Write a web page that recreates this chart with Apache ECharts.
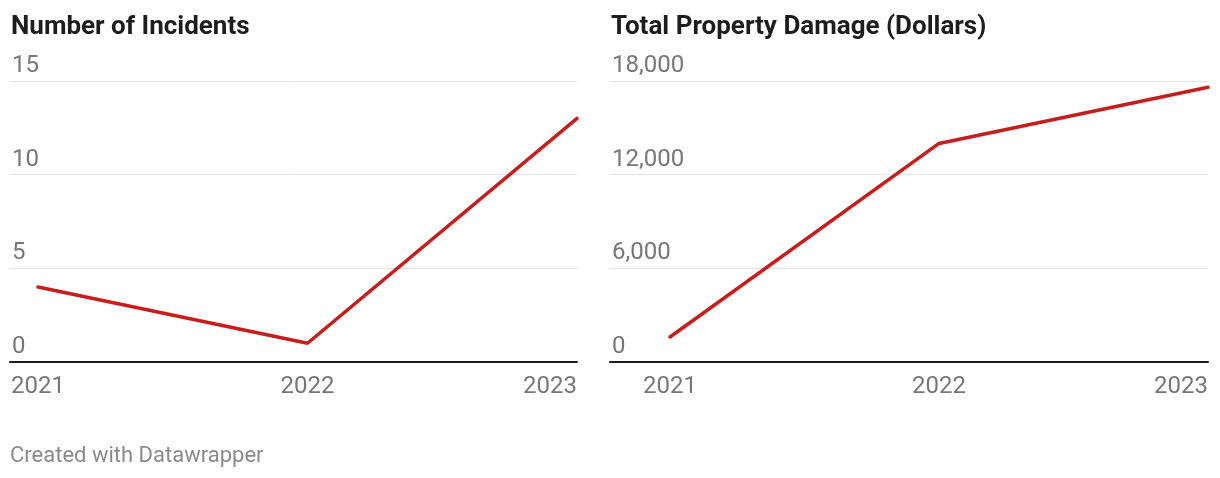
<!DOCTYPE html>
<html>
<head>
<meta charset="utf-8">
<script src="https://cdn.jsdelivr.net/npm/echarts@6/dist/echarts.min.js"></script>
<style>
  html, body { margin: 0; padding: 0; background: #fff; }
  #chart { width: 1220px; height: 478px; }
</style>
</head>
<body>
<div id="chart"></div>
<script>
const years = ['2021', '2022', '2023'];
const incidents = [4, 1, 13];
const damage = [1600, 14000, 17600];

const incidentTicks = [0, 5, 10, 15];
const damageTicks = [0, 6000, 12000, 18000];

const RED = '#c71e1d';
const FONT = 'Roboto';

// x is the year index; the line starts a little right of the grid edge (room for y labels)
function xAxisFor(idx, gridW, pad) {
  let n = years.length - 1;
  return {
    type: 'value', gridIndex: idx, min: -pad / (gridW - pad) * n, max: n,
    axisLine: { show: true, onZero: false, lineStyle: { color: '#1d1d1d', width: 2 } },
    axisTick: { show: false },
    splitLine: { show: false },
    axisLabel: {
      customValues: years.map((y, i) => i),
      alignMaxLabel: 'right',
      color: '#777', fontSize: 24, fontFamily: FONT, margin: 13,
      formatter: v => years[Math.round(v)]
    }
  };
}

function yAxisFor(idx, ticks) {
  return {
    type: 'value', gridIndex: idx, min: ticks[0], max: ticks[ticks.length - 1],
    interval: ticks[1] - ticks[0],
    axisLine: { show: false }, axisTick: { show: false },
    splitLine: { lineStyle: { color: '#e3e3e3', width: 1 } },
    axisLabel: {
      inside: true, align: 'left', verticalAlign: 'bottom', margin: 2,
      padding: [0, 0, 3, 0],
      color: '#777', fontSize: 24, fontFamily: FONT,
      formatter: v => v.toLocaleString('en-US')
    }
  };
}

function lineSeries(idx, vals) {
  return {
    type: 'line', xAxisIndex: idx, yAxisIndex: idx,
    data: vals.map((v, i) => [i, v]),
    showSymbol: false,
    lineStyle: { color: RED, width: 3.5, cap: 'round' }
  };
}

const titleStyle = { fontSize: 26, fontWeight: 'bold', color: '#1d1d1d', fontFamily: FONT };

const chart = echarts.init(document.getElementById('chart'));
chart.setOption({
  animation: false,
  title: [
    { text: 'Number of Incidents', left: 11, top: 14, padding: 0, textStyle: titleStyle },
    { text: 'Total Property Damage (Dollars)', left: 611, top: 14, padding: 0, textStyle: titleStyle },
    { text: 'Created with Datawrapper', left: 10, top: 445, padding: 0,
      textStyle: { fontSize: 22, fontWeight: 'normal', color: '#8a8a8a', fontFamily: FONT } }
  ],
  grid: [
    { left: 10, top: 81, width: 567, height: 281 },
    { left: 610, top: 81, width: 598, height: 281 }
  ],
  xAxis: [
    xAxisFor(0, 567, 28),
    xAxisFor(1, 598, 60)
  ],
  yAxis: [
    yAxisFor(0, incidentTicks),
    yAxisFor(1, damageTicks)
  ],
  series: [
    lineSeries(0, incidents),
    lineSeries(1, damage)
  ]
});
</script>
</body>
</html>
